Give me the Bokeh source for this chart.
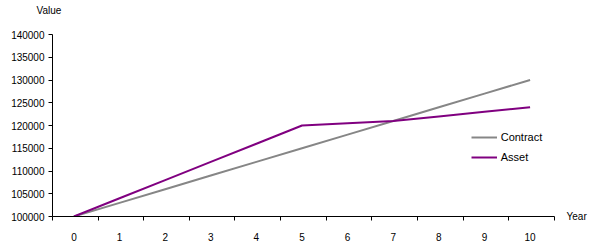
from bokeh.plotting import figure
from bokeh.models import Range1d, FixedTicker, Label, Legend, LegendItem, NumeralTickFormatter
from bokeh.embed import file_html
from bokeh.resources import INLINE

years = [0, 1, 2, 3, 4, 5, 6, 7, 8, 9, 10]
contract = [100000, 103000, 106000, 109000, 112000, 115000, 118000, 121000, 124000, 127000, 130000]
asset = [100000, 104000, 108000, 112000, 116000, 120000, 120500, 121000, 122000, 123000, 124000]
y_ticks = [100000, 105000, 110000, 115000, 120000, 125000, 130000, 135000, 140000]
series_names = ["Contract", "Asset"]
x_title = "Year"
y_title = "Value"

FONT = "Liberation Sans"

p = figure(width=600, height=245, output_backend="svg", toolbar_location=None,
           x_range=Range1d(-0.47, 10.535), y_range=Range1d(y_ticks[0], y_ticks[-1]),
           min_border_left=52, min_border_right=46, min_border_top=34, min_border_bottom=29)
p.outline_line_color = None
p.grid.visible = False
p.background_fill_color = "white"
p.border_fill_color = "white"

r1 = p.line(years, contract, line_color="#868686", line_width=2)
r2 = p.line(years, asset, line_color="#800080", line_width=2)

xa = p.xaxis[0]
xa.ticker = FixedTicker(ticks=years, minor_ticks=[k - 0.47 for k in range(len(years) + 1)])
xa.major_tick_out = 0
xa.major_tick_in = 0
xa.minor_tick_out = 4
xa.minor_tick_in = 0
xa.minor_tick_line_color = "black"
xa.axis_line_color = "black"
xa.major_label_standoff = 12
xa.major_label_text_font = FONT
xa.major_label_text_font_size = "10px"
xa.major_label_text_color = "black"

ya = p.yaxis[0]
ya.ticker = FixedTicker(ticks=y_ticks)
ya.formatter = NumeralTickFormatter(format="0")
ya.major_tick_out = 4
ya.major_tick_in = 0
ya.minor_tick_out = 0
ya.minor_tick_in = 0
ya.major_tick_line_color = "black"
ya.axis_line_color = "black"
ya.major_label_standoff = 4
ya.major_label_text_font = FONT
ya.major_label_text_font_size = "10px"
ya.major_label_text_color = "black"

legend = Legend(items=[LegendItem(label=series_names[0], renderers=[r1]),
                       LegendItem(label=series_names[1], renderers=[r2])],
                location=(418.7, 49.3), border_line_color=None, background_fill_alpha=0,
                padding=0, margin=0, spacing=0, glyph_width=26, glyph_height=20,
                label_height=20, label_standoff=4, label_text_font=FONT,
                label_text_font_size="11px", label_text_color="black")
p.add_layout(legend)

p.add_layout(Label(x=-16, y=24, x_units="screen", y_units="screen", text=y_title,
                   text_font=FONT, text_font_size="10px", text_baseline="middle",
                   text_color="black"), "above")
p.add_layout(Label(x=12, y=0, x_units="screen", y_units="screen", text=x_title,
                   text_font=FONT, text_font_size="10px", text_baseline="middle",
                   text_color="black"), "right")

open("out.html", "w").write(file_html(p, INLINE))
